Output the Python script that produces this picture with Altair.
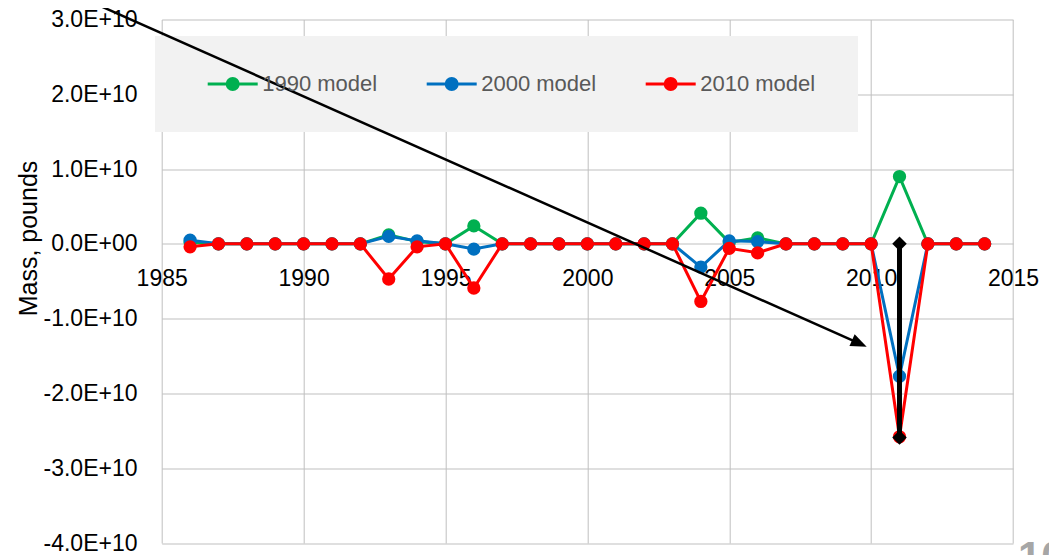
import altair as alt
import pandas as pd

# ---------------- data (mass in billions of pounds) ----------------
YEARS = list(range(1986, 2015))
SERIES = ["1990 model", "2000 model", "2010 model"]
COLORS = ["#00B050", "#0070C0", "#FF0000"]

MODEL_1990 = [0.2, 0, 0, 0, 0, 0, 0, 1.2, 0.3, 0, 2.4, 0, 0, 0, 0, 0, 0, 0,
              4.1, 0.2, 0.8, 0, 0, 0, 0, 9.0, 0, 0, 0]
MODEL_2000 = [0.5, 0, 0, 0, 0, 0, 0, 1.0, 0.4, 0, -0.7, 0, 0, 0, 0, 0, 0, 0,
              -3.1, 0.4, 0.3, 0, 0, 0, 0, -17.7, 0, 0, 0]
MODEL_2010 = [-0.4, 0, 0, 0, 0, 0, 0, -4.7, -0.4, 0, -5.9, 0, 0, 0, 0, 0, 0, 0,
              -7.7, -0.6, -1.2, 0, 0, 0, 0, -25.8, 0, 0, 0]

# black vertical marker at 2011
MARK_YEAR = [2011, 2011]
MARK_VALUE = [0.0, -25.9]

# annotation arrow (start, end of shaft) and tip
ARROW_YEAR = [1982.13, 2009.52]
ARROW_VALUE = [33.0, -13.20]
TIP_YEAR = [2009.844]
TIP_VALUE = [-13.75]

X_TICKS = [1985, 1990, 1995, 2000, 2005, 2010, 2015]
Y_TICKS = [-4e10, -3e10, -2e10, -1e10, 0, 1e10, 2e10, 3e10]

PAGE_NUMBER = ["10"]

B = 1e9
rows = []
for name, vals in zip(SERIES, [MODEL_1990, MODEL_2000, MODEL_2010]):
    for yr, v in zip(YEARS, vals):
        rows.append({"year": yr, "mass": v * B, "series": name})
df = pd.DataFrame(rows)
df_mark = pd.DataFrame({"year": MARK_YEAR, "mass": [v * B for v in MARK_VALUE]})
df_arrow = pd.DataFrame({"year": ARROW_YEAR, "mass": [v * B for v in ARROW_VALUE]})
df_tip = pd.DataFrame({"year": TIP_YEAR, "mass": [v * B for v in TIP_VALUE]})

FONT = "Liberation Sans"
W, H = 851.3, 523.5

x_scale = alt.Scale(domain=[1985, 2015], nice=False, zero=False)
y_scale = alt.Scale(domain=[-4e10, 3e10], nice=False)
color_scale = alt.Scale(domain=SERIES, range=COLORS)

x_axis = alt.Axis(values=X_TICKS, format="d", title=None, grid=True,
                  gridColor="#BFBFBF", gridWidth=1, domain=False, ticks=False,
                  tickSize=0, labelPadding=24, labelFontSize=23, labelFont=FONT,
                  labelColor="#000000", offset=-H * 4 / 7, labelFlush=False,
                  labelOverlap=False)

y_axis = alt.Axis(values=Y_TICKS,
                  labelExpr="(datum.value < 0 ? '-' : '') + format(abs(datum.value) / 1e10, '.1f') + (datum.value == 0 ? 'E+00' : 'E+10')",
                  title="Mass, pounds", titleFontSize=25, titleFont=FONT,
                  titleFontWeight="normal", titleColor="#000000",
                  titleX=-125.7, titleY=218.5, titleBaseline="alphabetic",
                  titleAlign="center", titleAngle=270,
                  grid=True, gridColor="#BFBFBF", gridWidth=1, domain=False,
                  ticks=False, tickSize=0, labelPadding=24.7, labelFontSize=23,
                  labelFont=FONT, labelColor="#000000", labelFlush=False,
                  labelOverlap=False)

X = alt.X("year:Q", scale=x_scale, axis=x_axis)
Y = alt.Y("mass:Q", scale=y_scale, axis=y_axis)

LEG_PATH = ("M-1,0L1,0M0.22,0A0.22,0.22,0,1,1,-0.22,0"
            "A0.22,0.22,0,1,1,0.22,0Z")
legend = alt.Legend(title=None, orient="none", legendX=44.5, legendY=38,
                    direction="horizontal", symbolType=LEG_PATH,
                    symbolSize=2500, symbolStrokeWidth=3, symbolOpacity=1,
                    labelFontSize=22, labelFont=FONT, labelColor="#595959",
                    labelOffset=3, columnPadding=43)

# legend background box
box = alt.Chart(pd.DataFrame({"a": [0]})).mark_rect(
    color="#F2F2F2", opacity=1).encode(
    x=alt.value(-6.7), x2=alt.value(696.3),
    y=alt.value(16.5), y2=alt.value(112.5))

layers = [box]
for name, col in zip(SERIES, COLORS):
    base = alt.Chart(df).transform_filter(alt.datum.series == name)
    line = base.mark_line(strokeWidth=3, color=col).encode(x=X, y=Y)
    pts = base.mark_point(filled=True, size=106, strokeWidth=3, opacity=1).encode(
        x=X, y=Y,
        fill=alt.Fill("series:N", scale=color_scale, legend=legend),
        stroke=alt.Stroke("series:N", scale=color_scale, legend=legend))
    layers += [line, pts]

mark_line = alt.Chart(df_mark).mark_line(color="black", strokeWidth=5).encode(x=X, y=Y)
mark_pts = alt.Chart(df_mark).mark_point(shape="diamond", filled=True, size=210,
                                         color="black", opacity=1).encode(x=X, y=Y)
arrow = alt.Chart(df_arrow).mark_line(color="black", strokeWidth=2.5).encode(x=X, y=Y)
tip = alt.Chart(df_tip).mark_point(shape="M0,0L-2,-0.8L-2,0.8Z", filled=True,
                                   size=256, angle=24, color="black",
                                   opacity=1).encode(x=X, y=Y)
page_no = alt.Chart(pd.DataFrame({"t": PAGE_NUMBER})).mark_text(
    align="left", baseline="alphabetic", fontSize=42, fontWeight="bold",
    color="#A6A6A6", font=FONT).encode(
    x=alt.value(856.3), y=alt.value(551), text="t:N")

layers += [mark_line, mark_pts, arrow, tip, page_no]

chart = alt.layer(*layers).properties(
    width=W, height=H,
    autosize=alt.AutoSizeParams(type="none"),
    padding={"left": 153.7, "top": 11.5, "right": 36, "bottom": 12},
    background="white",
).configure_view(stroke=None)

chart.save("out.html", embed_options={"renderer": "svg", "actions": False})
